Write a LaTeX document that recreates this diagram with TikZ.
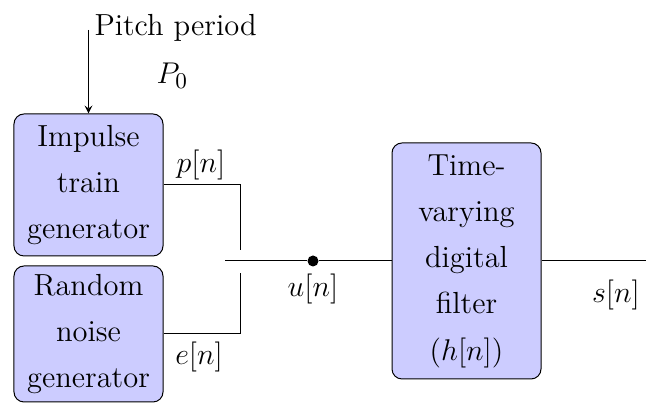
\documentclass[tikz,border=0pt]{standalone}
\usetikzlibrary{arrows}
\usetikzlibrary{calc}

\begin{document}
\begin{tikzpicture}[x=0.4pt, y=0.4pt, font=\fontsize{12.2}{18.5}\selectfont,
	block/.style={draw, fill=blue!20, rounded corners=4pt, align=center, minimum width=59.6pt, inner sep=0pt},
	lbl/.style={inner sep=0pt}]
	\useasboundingbox (0,0) rectangle (646,404);

	% save coordinates for later
	\coordinate (pitch) at (88.5,374);
	\coordinate (swtop) at (240,154);
	\coordinate (swbot) at (240,131);
	\coordinate (swin) at (225,143);
	\coordinate (out) at (646,143);

	% the three blocks
	\node[block, minimum height=56.8pt] (imp) at (88.5,219) {Impulse\\train\\generator};
	\node[block, minimum height=54.4pt] (noise) at (88.5,70) {Random\\noise\\generator};
	\node[block, minimum height=94.4pt] (filt) at (466.5,143) {Time-\\varying\\digital\\filter\\$(h[n])$};
	\node[circle, fill, inner sep=0pt, minimum size=4.4pt] (junc) at (313,143) {};

	% pitch input and the switch
	\draw[-stealth] (pitch) -- (imp.north);
	\draw (imp.east) -| (swtop);
	\draw (noise.east) -| (swbot);
	\draw (swin) -- (junc) -- (filt.west);
	\draw (filt.east) -- (out);

	% nodes with labels
	\node[lbl, anchor=base west] (pitchlbl) at (94,368) {Pitch period};
	\node[lbl, anchor=base west] (plbl) at (156,320) {$P_0$};
	\node[lbl, anchor=base] (pn) at (201,231) {$p[n]$};
	\node[lbl, anchor=base] (en) at (199,39) {$e[n]$};
	\node[lbl, anchor=base] (un) at (313,107) {$u[n]$};
	\node[lbl, anchor=base] (sn) at (616,101) {$s[n]$};

\end{tikzpicture}
\end{document}
